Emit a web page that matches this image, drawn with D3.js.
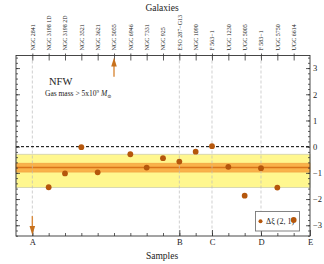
<!DOCTYPE html>
<html>
<head>
<meta charset="utf-8">
<script src="https://cdn.jsdelivr.net/npm/d3@7"></script>
<style>
  body { margin: 0; background: #fff; }
  text { font-family: 'Liberation Serif', 'DejaVu Serif', serif; fill: #222; }
</style>
</head>
<body>
<div id="chart"></div>
<script>
/* galaxies along the top, one per integer position */
const galaxies = ['NGC 2841', 'NGC 3198 1D', 'NGC 3198 2D', 'NGC 3521', 'NGC 3621', 'NGC 5055',
  'NGC 6946', 'NGC 7331', 'NGC 925', 'ESO 287\u2212G13', 'NGC 1090', 'F 563\u22121',
  'UGC 1230', 'UGC 5005', 'F 583\u22121', 'UGC 5750', 'UGC 6614'];
/* delta xi for each galaxy, null where the value is off the chart (arrows) */
const deltaXi = [null, -1.55, -1.02, -0.02, -0.98, null, -0.29, -0.80, -0.44, -0.57, -0.19, 0.02,
  -0.77, -1.87, -0.82, -1.56, -2.80];
/* off-scale values: [position, from, to] */
const arrowsUp = [[6, 2.67, 3.40]];
const arrowsDown = [[1, -2.65, -3.37]];
/* sample boundaries along the bottom */
const sampleTicks = [1, 10, 12, 15, 18];
const sampleLabels = ['A', 'B', 'C', 'D', 'E'];
/* mean and bands */
const bandMean = -0.80;
const innerBand = [-0.63, -0.97];
const outerBand = [-0.29, -1.56];

const W = 324;
const H = 264;
const plotLeft = 16;
const plotRight = 310;
const plotTop = 55.5;
const plotBottom = 236;

const svg = d3.select('#chart')
  .append('svg')
  .attr('width', W)
  .attr('height', H);

const x = d3.scaleLinear()
  .domain([0, 18])
  .range([plotLeft, plotRight]);
const y = d3.scaleLinear()
  .domain([-3.41, 3.48])
  .range([plotBottom, plotTop]);

/* yellow outer band */
svg.append('rect')
  .attr('x', plotLeft)
  .attr('width', plotRight - plotLeft)
  .attr('y', y(outerBand[0]))
  .attr('height', y(outerBand[1]) - y(outerBand[0]))
  .attr('fill', '#fff78f')
  .attr('stroke', '#cfcfb0')
  .attr('stroke-width', 0.8);
/* orange inner band */
svg.append('rect')
  .attr('x', plotLeft)
  .attr('width', plotRight - plotLeft)
  .attr('y', y(innerBand[0]))
  .attr('height', y(innerBand[1]) - y(innerBand[0]))
  .attr('fill', '#f9b24a')
  .attr('stroke', '#f0a040')
  .attr('stroke-width', 0.6);
svg.append('line')
  .attr('x1', plotLeft)
  .attr('x2', plotRight)
  .attr('y1', y(bandMean))
  .attr('y2', y(bandMean))
  .attr('stroke', '#d9741a')
  .attr('stroke-width', 1.5);

/* dashed sample boundaries */
svg.selectAll('.vline')
  .data(sampleTicks.slice(0, 4))
  .enter()
  .append('line')
  .attr('class', 'vline')
  .attr('x1', function (d) { return x(d); })
  .attr('x2', function (d) { return x(d); })
  .attr('y1', plotTop)
  .attr('y2', plotBottom)
  .attr('stroke', '#bbb')
  .attr('stroke-width', 0.7)
  .attr('stroke-dasharray', '3,2');

/* zero line */
svg.append('line')
  .attr('x1', plotLeft)
  .attr('x2', plotRight)
  .attr('y1', y(0))
  .attr('y2', y(0))
  .attr('stroke', '#000')
  .attr('stroke-width', 1)
  .attr('stroke-dasharray', '3,2');

/* left axis: ticks only */
svg.append('g')
  .attr('transform', 'translate(' + plotLeft + ',0)')
  .call(d3.axisLeft(y).tickValues(d3.range(-3, 4)).tickSize(-4).tickFormat(''))
  .call(function (g) { g.select('.domain').remove(); });
svg.append('g')
  .attr('transform', 'translate(' + plotLeft + ',0)')
  .call(d3.axisLeft(y).tickValues(d3.range(-34, 35, 2).map(function (v) { return v / 10; })).tickSize(-2).tickFormat(''))
  .call(function (g) { g.select('.domain').remove(); });

/* right axis with labels */
svg.append('g')
  .attr('transform', 'translate(' + plotRight + ',0)')
  .call(d3.axisRight(y).tickValues(d3.range(-3, 4)).tickSize(-4).tickPadding(3)
    .tickFormat(function (d) { return d < 0 ? '\u2212' + Math.abs(d) : d; }))
  .call(function (g) {
    g.select('.domain').remove();
    g.selectAll('text').style('font-size', '8.5px').style('font-family', 'Liberation Serif');
  });
svg.append('g')
  .attr('transform', 'translate(' + plotRight + ',0)')
  .call(d3.axisRight(y).tickValues(d3.range(-34, 35, 2).map(function (v) { return v / 10; })).tickSize(-2).tickFormat(''))
  .call(function (g) { g.select('.domain').remove(); });

/* top axis with galaxy names */
svg.append('g')
  .attr('transform', 'translate(0,' + plotTop + ')')
  .call(d3.axisTop(x).tickValues(d3.range(1, 18)).tickSize(-5)
    .tickFormat(function (d) { return galaxies[d - 1]; }))
  .call(function (g) {
    g.select('.domain').remove();
    g.selectAll('line').attr('y1', -2);
    g.selectAll('text')
      .attr('transform', 'rotate(-90)')
      .attr('x', 5)
      .attr('y', 0)
      .attr('dy', '0.33em')
      .attr('text-anchor', 'start')
      .style('font-size', '6px')
      .style('font-family', 'Liberation Serif');
  });

/* bottom axis: minor ticks and sample letters */
svg.append('g')
  .attr('transform', 'translate(0,' + plotBottom + ')')
  .call(d3.axisBottom(x).tickValues(d3.range(1, 18)).tickSize(-3).tickFormat(''))
  .call(function (g) { g.select('.domain').remove(); });
svg.append('g')
  .attr('transform', 'translate(0,' + plotBottom + ')')
  .call(d3.axisBottom(x).tickValues(sampleTicks).tickSize(-6).tickPadding(3)
    .tickFormat(function (d, i) { return sampleLabels[i]; }))
  .call(function (g) {
    g.select('.domain').remove();
    g.selectAll('text').style('font-size', '8.5px').style('font-family', 'Liberation Serif');
  });

svg.selectAll('.tick line').attr('stroke', '#333').attr('stroke-width', 0.8);
svg.selectAll('.tick text').attr('fill', '#222');

/* frame */
svg.append('rect')
  .attr('x', plotLeft)
  .attr('y', plotTop)
  .attr('width', plotRight - plotLeft)
  .attr('height', plotBottom - plotTop)
  .attr('fill', 'none')
  .attr('stroke', '#333')
  .attr('stroke-width', 0.9);

/* titles */
svg.append('text')
  .attr('x', 162)
  .attr('y', 11)
  .attr('text-anchor', 'middle')
  .style('font-size', '9.5px')
  .text('Galaxies');
svg.append('text')
  .attr('x', 162)
  .attr('y', 259)
  .attr('text-anchor', 'middle')
  .style('font-size', '9.5px')
  .text('Samples');

svg.append('text')
  .attr('x', 49)
  .attr('y', 85)
  .style('font-size', '10.5px')
  .text('NFW');
const gas = svg.append('text')
  .attr('x', 45)
  .attr('y', 96)
  .style('font-size', '7.5px');
gas.append('tspan').text('Gas mass > 5x10');
gas.append('tspan').attr('dy', -3).style('font-size', '5px').text('9');
gas.append('tspan').attr('dy', 3).text(' ');
gas.append('tspan').style('font-style', 'italic').text('M');
gas.append('tspan').attr('dy', 1.5).style('font-size', '5px').text('\u2299');

/* legend */
svg.append('rect')
  .attr('x', 255.5)
  .attr('y', 211.5)
  .attr('width', 44)
  .attr('height', 19.5)
  .attr('fill', '#fff')
  .attr('stroke', '#777')
  .attr('stroke-width', 0.9);
svg.append('circle')
  .attr('cx', 260.5)
  .attr('cy', 221.3)
  .attr('r', 2)
  .attr('fill', '#b5570c');
svg.append('text')
  .attr('x', 266)
  .attr('y', 224)
  .style('font-size', '8px')
  .text('\u0394\u03be (2, 1)');

/* data points */
svg.selectAll('.pt')
  .data(deltaXi.map(function (v, i) { return { i: i + 1, v: v }; }).filter(function (d) { return d.v !== null; }))
  .enter()
  .append('circle')
  .attr('class', 'pt')
  .attr('cx', function (d) { return x(d.i); })
  .attr('cy', function (d) { return y(d.v); })
  .attr('r', 2.9)
  .attr('fill', '#b5570c');

/* arrows for off-scale values */
function drawArrow (d) {
  const px = x(d[0]);
  const y0 = y(d[1]);
  const y1 = y(d[2]);
  const dir = y1 < y0 ? 1 : -1;
  svg.append('line')
    .attr('x1', px)
    .attr('x2', px)
    .attr('y1', y0)
    .attr('y2', y1 + dir * 6)
    .attr('stroke', '#d98a3c')
    .attr('stroke-width', 1.4);
  svg.append('path')
    .attr('d', 'M' + (px - 2.8) + ',' + (y1 + dir * 9) + 'L' + px + ',' + y1 + 'L' + (px + 2.8) + ',' + (y1 + dir * 9) + 'Z')
    .attr('fill', '#c8711c');
}
arrowsUp.forEach(drawArrow);
arrowsDown.forEach(drawArrow);
</script>
</body>
</html>
